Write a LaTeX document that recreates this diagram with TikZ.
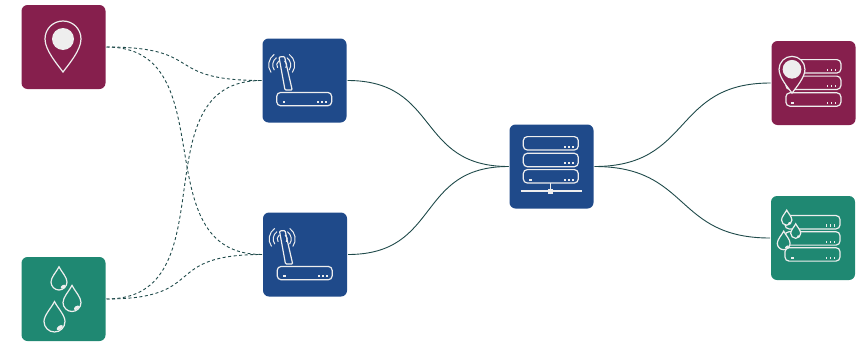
\documentclass[tikz,border=0pt]{standalone}
\usepackage{xcolor}
\usetikzlibrary{arrows.meta,positioning}

\definecolor{maroonbox}{HTML}{861F4D}
\definecolor{tealbox}{HTML}{1F8872}
\definecolor{bluebox}{HTML}{1F4A8A}
\definecolor{iconline}{HTML}{EEEEEE}
\definecolor{wireline}{HTML}{1F4A4A}

\tikzset{
  iconbox/.style={rounded corners=6pt,minimum width=84pt,minimum height=84pt,inner sep=0pt,outer sep=1pt},
  wire/.style={draw=wireline,line width=0.9pt},
  sensorwire/.style={wire,dashed,dash pattern=on 3pt off 2.5pt},
  icon/.style={draw=iconline,line width=1.2pt},
  pics/rack/.style={code={
    \draw[icon,rounded corners=4pt] (-27.5,-6.7) rectangle (27.5,6.7);
    \foreach \dotx in {14,18,22}
      \fill[iconline] (\dotx-0.9,2.2) rectangle (\dotx+0.9,4.3);
    #1
  }},
  pics/pin/.style n args={2}{code={
    \draw[icon,fill=#2] (0,33) .. controls (-6,25) and (-18,11) .. (-18,0)
      .. controls (-18,-10) and (-10,-18) .. (0,-18)
      .. controls (10,-18) and (18,-10) .. (18,0)
      .. controls (18,11) and (6,25) .. (0,33) -- cycle;
    \fill[iconline] (0,0) circle[radius=#1];
  }},
  pics/drop/.style={code={
    \draw[icon,fill=#1] (0,-1.9) .. controls (0.3,-1.3) and (1,-0.6) .. (1,0)
      .. controls (1,0.55) and (0.55,1) .. (0,1)
      .. controls (-0.55,1) and (-1,0.55) .. (-1,0)
      .. controls (-1,-0.6) and (-0.3,-1.3) .. (0,-1.9) -- cycle;
    \fill[iconline,rotate around={35:(0.5,0.58)}] (0.5,0.58) ellipse[x radius=0.34,y radius=0.18];
  }},
  pics/router/.style={code={
    \draw[icon,rounded corners=1pt] (-25.5,-23.5) -- (-20,-24) -- (-12.3,9.5) -- (-19.5,9.5) -- cycle;
    \foreach \waver in {5,9,13} {
      \draw[icon,line width=1pt] ([shift={(-22.8,-15.5)}]125:\waver pt) arc[start angle=125,end angle=215,radius=\waver pt];
      \draw[icon,line width=1pt] ([shift={(-22.8,-15.5)}]-35:\waver pt) arc[start angle=-35,end angle=55,radius=\waver pt];
    }
    \pic at (-0.3,18.6) {rack={\fill[iconline] (-21.7,2.2) rectangle (-19,4.3);}};
  }}
}

\begin{document}
\begin{tikzpicture}[x=1pt,y=-1pt]
  \useasboundingbox (0,0) rectangle (859,343);
  % boxes
  \node[iconbox,fill=maroonbox] (location) at (63.5,47) {};
  \node[iconbox,fill=tealbox] (rain) at (63.5,299) {};
  \node[iconbox,fill=bluebox] (routerA) at (304.5,80.5) {};
  \node[iconbox,fill=bluebox] (routerB) at (305,254.5) {};
  \node[iconbox,fill=bluebox] (server) at (551.5,166.5) {};
  \node[iconbox,fill=maroonbox] (locationdb) at (813.5,83) {};
  \node[iconbox,fill=tealbox] (raindb) at (813,238) {};
  % dashed links
  \draw[sensorwire] (location.east) to[out=0,in=180,looseness=1.62] (routerA.west);
  \draw[sensorwire] (location.east) to[out=0,in=180,looseness=1.19] (routerB.west);
  \draw[sensorwire] (rain.east) to[out=0,in=180,looseness=1.19] (routerA.west);
  \draw[sensorwire] (rain.east) to[out=0,in=180,looseness=1.62] (routerB.west);
  % solid links
  \draw[wire] (routerA.east) to[out=0,in=180,looseness=1.3] (server.west);
  \draw[wire] (routerB.east) to[out=0,in=180,looseness=1.3] (server.west);
  \draw[wire] (server.east) to[out=0,in=180,looseness=1.3] (locationdb.west);
  \draw[wire] (server.east) to[out=0,in=180,looseness=1.3] (raindb.west);
  % icons
  \pic at (63,39) {pin={11}{maroonbox}};
  \pic[scale=8] at (59,282) {drop=tealbox};
  \pic[scale=9] at (72,302.5) {drop=tealbox};
  \pic[scale=10.5] at (54.5,321.5) {drop=tealbox};
  \pic at (304.5,80.5) {router};
  \pic at (305,254.5) {router};
  \pic at (550.8,143.3) {rack};
  \pic at (550.8,160) {rack};
  \pic at (550.8,176.3) {rack={\fill[iconline] (-22,2.2) rectangle (-19,4.3);}};
  \draw[icon] (520.7,191) -- (581.7,191);
  \draw[icon] (550.8,183) -- (550.8,191);
  \fill[iconline] (548.3,188.5) rectangle (553.3,193.5);
  \pic at (813.4,66.3) {rack};
  \pic at (813.4,82.8) {rack};
  \pic at (813.4,99.5) {rack={\fill[iconline] (-22,2.2) rectangle (-19,4.3);}};
  \pic[scale=0.72] at (792,69.3) {pin={13}{maroonbox}};
  \pic at (812.5,222.2) {rack};
  \pic at (812.5,238.4) {rack};
  \pic at (812.5,254.4) {rack={\fill[iconline] (-22,2.2) rectangle (-19,4.3);}};
  \pic[scale=5.2] at (786.7,220) {drop=tealbox};
  \pic[scale=5] at (795.7,233.3) {drop=tealbox};
  \pic[scale=6.4] at (783.7,243.3) {drop=tealbox};
\end{tikzpicture}
\end{document}
